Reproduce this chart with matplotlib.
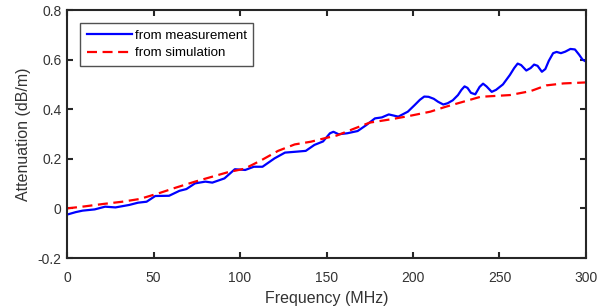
import numpy as np
import matplotlib
matplotlib.use("Agg")
import matplotlib.pyplot as plt

plt.rcParams['font.family'] = ['Liberation Sans', 'DejaVu Sans']

freq_meas = [0, 5, 9, 16, 22, 28, 36, 41, 46, 51, 59, 65, 69, 74, 80, 84, 91, 97,
             103, 108, 113, 120, 126, 133, 138, 143, 148, 152, 154, 157, 162, 168,
             173, 178, 182, 186, 191.5, 197, 201, 204, 206.5, 209, 212, 214.5, 217.5,
             220, 223, 226, 228, 229.8, 231.5, 233.5, 236, 238.5, 240.5, 242.5,
             245.5, 248, 252, 256, 258.5, 260.5, 262.5, 265.5, 268, 270, 272,
             274.5, 276.5, 278.5, 281, 283, 285.5, 288, 291, 293.6, 296, 298, 300]
att_meas = [-0.025, -0.015, -0.009, -0.004, 0.007, 0.004, 0.014, 0.023, 0.027, 0.05,
            0.051, 0.071, 0.078, 0.101, 0.108, 0.104, 0.121, 0.158, 0.155, 0.168,
            0.168, 0.202, 0.225, 0.229, 0.232, 0.256, 0.27, 0.303, 0.309, 0.299,
            0.303, 0.312, 0.336, 0.363, 0.367, 0.379, 0.37, 0.39, 0.417, 0.438,
            0.451, 0.45, 0.442, 0.43, 0.419, 0.424, 0.436, 0.457, 0.478, 0.492,
            0.486, 0.466, 0.46, 0.49, 0.503, 0.492, 0.47, 0.478, 0.5, 0.538,
            0.566, 0.584, 0.578, 0.556, 0.566, 0.58, 0.575, 0.551, 0.562, 0.595,
            0.626, 0.631, 0.626, 0.632, 0.643, 0.641, 0.62, 0.6, 0.592]

# simulated attenuation
freq_sim = [0, 10, 21, 32, 42, 53, 63, 74, 84, 93, 102.6, 112, 122, 131.6, 141, 149,
            156, 165, 175, 187, 198, 210, 219, 229, 239, 256, 268, 277, 287, 300]
att_sim = [0.0, 0.008, 0.018, 0.027, 0.038, 0.061, 0.084, 0.108, 0.128, 0.146, 0.16,
           0.193, 0.232, 0.258, 0.269, 0.283, 0.294, 0.319, 0.346, 0.359, 0.373, 0.39,
           0.41, 0.43, 0.45, 0.457, 0.473, 0.496, 0.504, 0.508]

fig = plt.figure(figsize=(6.12, 3.08), dpi=100)
ax = fig.add_axes([0.1095, 0.1623, 0.848, 0.8052])

ax.plot(freq_meas, att_meas, color=(0, 0, 1), linewidth=1.6,
        solid_joinstyle='round', label='from measurement')
ax.plot(freq_sim, att_sim, color=(1, 0, 0), linewidth=1.6, linestyle=(0, (4.5, 2.5)),
        label='from simulation')

ax.set_xlim(0, 300)
ax.set_ylim(-0.2, 0.8)
ax.set_xticks([0, 50, 100, 150, 200, 250, 300])
ax.set_yticks([-0.2, 0, 0.2, 0.4, 0.6, 0.8])
ax.set_yticklabels(['-0.2', '0', '0.2', '0.4', '0.6', '0.8'])

dark = '#262626'
for s in ax.spines.values():
    s.set_color(dark)
    s.set_linewidth(1.5)
ax.tick_params(direction='in', top=True, right=True, length=4, width=1.5,
               colors=dark, labelsize=10, labelcolor='#333333')
ax.tick_params(axis='x', pad=9)
ax.tick_params(axis='y', pad=4)

ax.set_xlabel('Frequency (MHz)', fontsize=11.5, color='#333333', labelpad=5)
ax.set_ylabel('Attenuation (dB/m)', fontsize=11.5, color='#333333', labelpad=5)

leg = ax.legend(loc='upper left', bbox_to_anchor=(0.025, 0.948), fontsize=9.6,
                frameon=True, fancybox=False, handlelength=3.4, handletextpad=0.2,
                borderpad=0.5, labelspacing=0.38, borderaxespad=0)
leg.get_frame().set_edgecolor(dark)
leg.get_frame().set_linewidth(1.0)

fig.savefig('out.png', dpi=100)
